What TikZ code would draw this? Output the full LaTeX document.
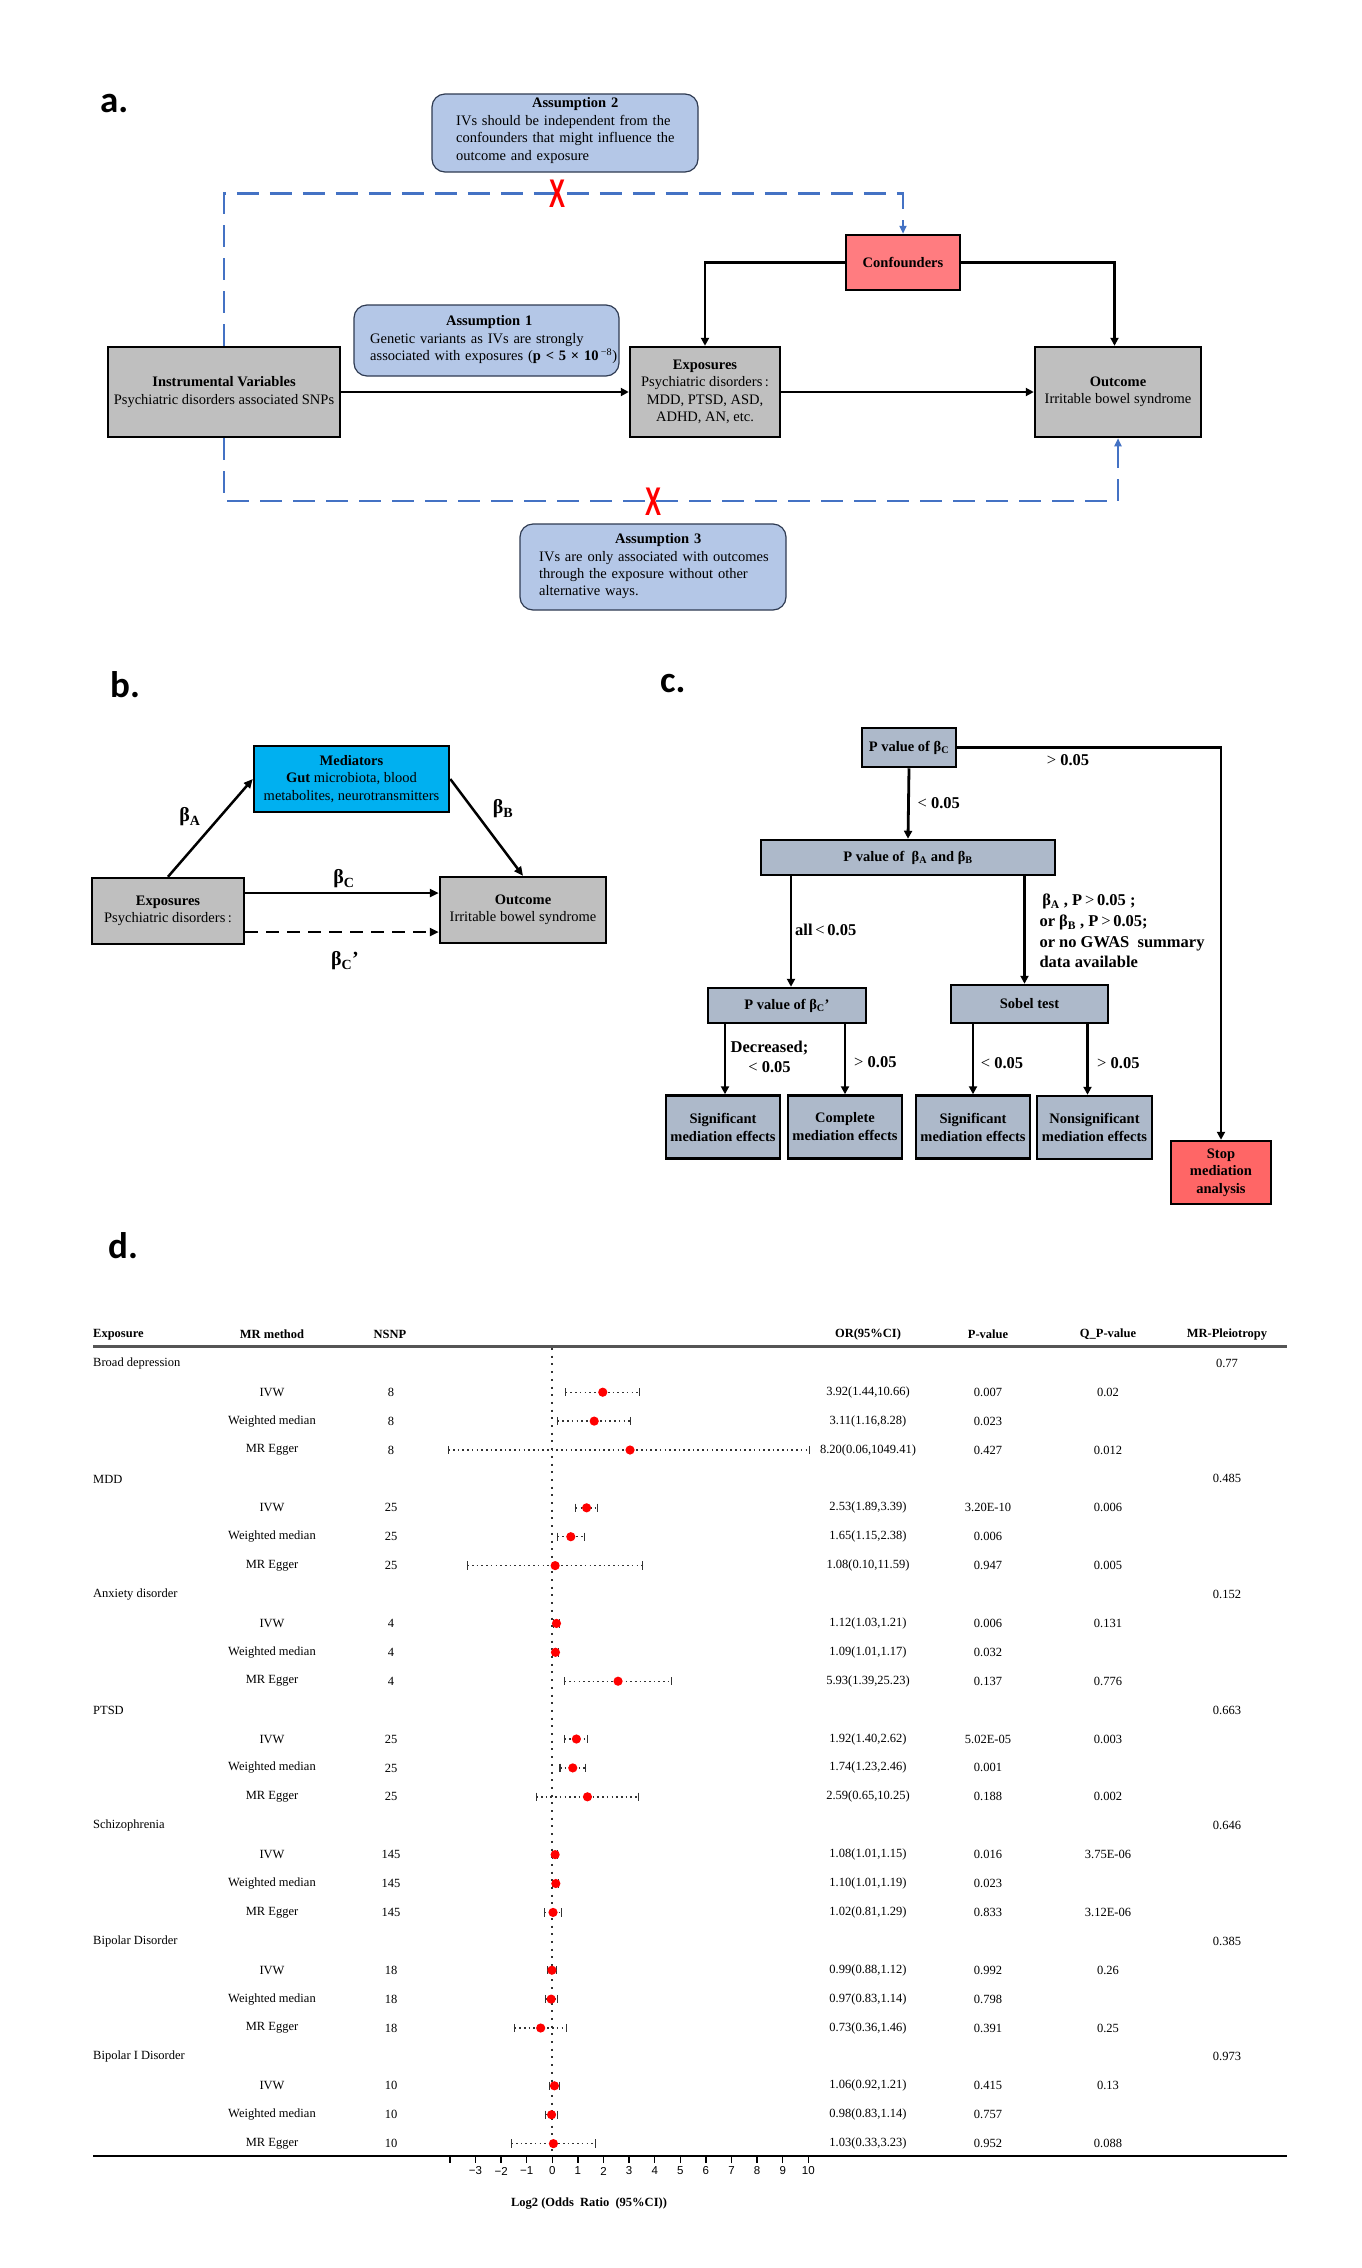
\documentclass[tikz,border=0pt]{standalone}
\usepackage{fontspec}
\setmainfont{Liberation Serif}
\newfontfamily\lblfont{Carlito}
\newfontfamily\axfont{Liberation Sans}
\usepackage{graphicx}
\usetikzlibrary{arrows.meta,calc}
\newcommand\myfs[2]{\fontsize{#1}{#2}\selectfont}
\definecolor{aFillC}{HTML}{B4C7E7}
\definecolor{aDrawC}{HTML}{2F3B52}
\definecolor{grayC}{HTML}{BFBFBF}
\definecolor{confC}{HTML}{FF7C80}
\definecolor{medC}{HTML}{00B0F0}
\definecolor{cboxC}{HTML}{ADB9CA}
\definecolor{stopC}{HTML}{FF6666}
\definecolor{dblueC}{HTML}{4472C4}
\definecolor{ruleC}{HTML}{555555}
\definecolor{ciC}{HTML}{333333}
\tikzset{
 panel/.style={font=\lblfont\bfseries\myfs{37}{40}, anchor=base west, inner sep=0},
 gbox/.style={draw=black, line width=2.5pt, fill=grayC, inner sep=0, align=center, font=\myfs{14.5}{17.5}},
 abox/.style={draw=aDrawC, line width=1.2pt, fill=aFillC, rounded corners=13pt, inner sep=0},
 atext/.style={inner sep=0, text width=260pt, align=left, font=\myfs{14.5}{17.4}, anchor=west},
 arr/.style={line width=2.6pt, -{Triangle[length=8pt,width=8pt]}},
 bdash/.style={draw=dblueC, line width=2.6pt, dash pattern=on 22pt off 11pt, -{Triangle[length=8pt,width=7pt]}},
 redx/.style={text=red, font=\axfont\bfseries\myfs{40}{40}, inner sep=0},
 blbl/.style={font=\bfseries\myfs{20}{22}, inner sep=0},
 barr/.style={line width=2.5pt, -{Triangle[length=9pt,width=8pt]}},
 cbox/.style={draw=black, line width=2.5pt, fill=cboxC, inner sep=0, align=center, font=\bfseries\myfs{14.5}{18}},
 carr/.style={line width=2.8pt, -{Triangle[length=8pt,width=8pt]}},
 clbl/.style={font=\bfseries\myfs{16.5}{20.6}, inner sep=0, align=left},
 ftxt/.style={font=\myfs{12.5}{14}, inner sep=0},
 fhead/.style={font=\bfseries\myfs{12.5}{14}, inner sep=0},
 cil/.style={draw=ciC, line width=1.4pt, dash pattern=on 1.6pt off 3.1pt},
 capl/.style={draw=ciC, line width=1.1pt},
 zl/.style={draw=ciC, line width=1.8pt, dash pattern=on 2pt off 5.7pt},
 tickl/.style={draw=black, line width=1.3pt},
 axl/.style={font=\axfont\myfs{11.5}{12}, inner sep=0}
}
\newcommand\fgroup[3]{%
 \pgfmathsetmacro\yy{1363.3+28.9*#1}%
 \node[ftxt, anchor=west] (g#1) at (93,\yy) {#2};
 \node[ftxt] (pl#1) at (1227,\yy) {#3};
}
\newcommand\frow[9]{%
 \pgfmathsetmacro\yy{1363.3+28.9*#1}%
 \pgfmathsetmacro\xo{552.3+25.6*ln(#4)/ln(2)}%
 \pgfmathsetmacro\xl{552.3+25.6*ln(#5)/ln(2)}%
 \pgfmathsetmacro\xh{552.3+25.6*ln(#6)/ln(2)}%
 \node[ftxt] (m#1) at (272,\yy) {#2};
 \node[ftxt] (n#1) at (391,\yy) {#3};
 \draw[cil] (\xl,\yy) -- (\xh,\yy);
 \draw[capl] (\xl,\yy-4.2) -- (\xl,\yy+4.2);
 \draw[capl] (\xh,\yy-4.2) -- (\xh,\yy+4.2);
 \fill[red] (\xo,\yy) circle[radius=4.6pt];
 \node[ftxt] (o#1) at (868,\yy) {#7};
 \node[ftxt] (p#1) at (988,\yy) {#8};
 \node[ftxt] (q#1) at (1108,\yy) {#9};
}
\begin{document}
\begin{tikzpicture}[x=1pt,y=-1pt]
\fill[white] (0,0) rectangle (1361,2268);
\useasboundingbox (0,0) rectangle (1361,2268);

% ---------------- panel a ----------------
\node[panel] (la) at (100,112) {a.};
\node[abox, minimum width=266pt, minimum height=78pt] (a2) at (565,133) {};
\node[atext] (a2t) at (456,130.5) {\makebox[238pt]{\textbf{Assumption 2}}\\IVs should be independent from the\\confounders that might influence the\\outcome and exposure};
\node[abox, minimum width=265pt, minimum height=71pt] (a1) at (486.5,340.5) {};
\node[atext] (a1t) at (370,339.9) {\makebox[238pt]{\textbf{Assumption 1}}\\Genetic variants as IVs are strongly\\associated with exposures (\textbf{p < 5 × 10}\,\textsuperscript{−8})};
\node[abox, minimum width=266pt, minimum height=86pt] (a3) at (653,567) {};
\node[atext] (a3t) at (539,566.3) {\makebox[238pt]{\textbf{Assumption 3}}\\IVs are only associated with outcomes\\through the exposure without other\\alternative ways.};

\node[gbox, minimum width=232pt, minimum height=90pt] (iv) at (224,392) {\textbf{Instrumental Variables}\\Psychiatric disorders associated SNPs};
\node[gbox, minimum width=150pt, minimum height=90pt] (expa) at (705,392) {\textbf{Exposures}\\Psychiatric disorders\,:\\MDD, PTSD, ASD,\\ADHD, AN, etc.};
\node[gbox, minimum width=166pt, minimum height=90pt] (outa) at (1118,392) {\textbf{Outcome}\\Irritable bowel syndrome};
\node[gbox, fill=confC, minimum width=114pt, minimum height=55pt] (conf) at (903,262.5) {\textbf{Confounders}};

\coordinate (topy) at (0,193.6);
\coordinate (boty) at (0,501);
\draw[bdash] (iv.north) |- (conf.north |- topy) -- (conf.north);
\draw[bdash] (iv.south) |- (outa.south |- boty) -- (outa.south);
\node[redx] (x1) at (557,194) {\scalebox{0.6}[1]{X}};
\node[redx] (x2) at (653,502) {\scalebox{0.6}[1]{X}};

\draw[arr] (iv.east) -- (expa.west);
\draw[arr] (expa.east) -- (outa.west);
\draw[arr] (conf.west) -| (expa.north);
\draw[arr] (conf.east) -| ([xshift=-3.5pt]outa.north);

% ---------------- panel b ----------------
\node[panel] (lb) at (110,697) {b.};
\node[gbox, fill=medC, minimum width=195pt, minimum height=66pt] (med) at (351.5,779) {\textbf{Mediators}\\\textbf{Gut} microbiota, blood\\metabolites, neurotransmitters};
\node[gbox, minimum width=152pt, minimum height=66pt] (expb) at (168,911) {\textbf{Exposures}\\Psychiatric disorders\,:};
\node[gbox, minimum width=166pt, minimum height=66pt] (outb) at (523,910) {\textbf{Outcome}\\Irritable bowel syndrome};
\draw[barr] (expb.north) -- (med.west);
\draw[barr] (med.east) -- (outb.north);
\coordinate (bc1) at ([yshift=18pt]expb.east);
\coordinate (bc2) at ([yshift=-21pt]expb.east);
\draw[barr] (bc1) -- (bc1 -| outb.west);
\draw[barr, dash pattern=on 13pt off 8pt] (bc2) -- (bc2 -| outb.west);
\node[blbl] (bA) at (190,817) {β\textsubscript{A}};
\node[blbl] (bB) at (503,809) {β\textsubscript{B}};
\node[blbl] (bC) at (344,879) {β\textsubscript{C}};
\node[blbl] (bCp) at (345,961) {β\textsubscript{C}'};

% ---------------- panel c ----------------
\node[panel] (lc) at (660,692) {c.};
\node[cbox, minimum width=94pt, minimum height=39pt] (pc) at (909,747.5) {P value of β\textsubscript{C}};
\node[cbox, minimum width=294pt, minimum height=35pt] (pab) at (908,857.5) {P value of~~β\textsubscript{A} and β\textsubscript{B}};
\node[cbox, minimum width=158pt, minimum height=35pt] (pcp) at (787,1005.5) {P value of β\textsubscript{C}'};
\node[cbox, minimum width=157pt, minimum height=38pt] (sob) at (1029.5,1004) {Sobel test};
\node[cbox, minimum width=114pt, minimum height=63pt] (r1) at (723,1127) {Significant\\mediation effects};
\node[cbox, minimum width=114pt, minimum height=63pt] (r2) at (845,1127) {Complete\\mediation effects};
\node[cbox, minimum width=114pt, minimum height=63pt] (r3) at (973,1127) {Significant\\mediation effects};
\node[cbox, minimum width=115pt, minimum height=63pt] (r4) at (1094.5,1127.5) {Nonsignificant\\mediation effects};
\node[cbox, fill=stopC, minimum width=100pt, minimum height=63pt, font=\bfseries\myfs{14.5}{17.5}] (stop) at (1221,1172.5) {Stop\\mediation\\analysis};

\draw[carr] (pc.south) -- (pab.north);
\draw[carr] (pc.east) -| (stop.north);
\draw[carr] ([xshift=4pt]pcp.north |- pab.south) -- ([xshift=4pt]pcp.north);
\draw[carr] ([xshift=-5pt]sob.north |- pab.south) -- ([xshift=-5pt]sob.north);
\draw[carr] ([xshift=2pt]r1.north |- pcp.south) -- ([xshift=2pt]r1.north);
\draw[carr] (r2.north |- pcp.south) -- (r2.north);
\draw[carr] (r3.north |- sob.south) -- (r3.north);
\draw[carr] ([xshift=-7pt]r4.north |- sob.south) -- ([xshift=-7pt]r4.north);

\node[clbl, anchor=west] (l1) at (1046.7,760) {{\mdseries >} 0.05};
\node[clbl, anchor=west] (l2) at (917.4,803) {{\mdseries <} 0.05};
\node[clbl, anchor=west] (l3) at (795,930) {all\,{\mdseries <}\,0.05};
\node[clbl, anchor=west] (l4) at (1039.3,931) {\,β\textsubscript{A} , P\,{\mdseries >}\,0.05 ;\\or β\textsubscript{B} , P\,{\mdseries >}\,0.05;\\or no GWAS~~summary\\data available};
\node[clbl, align=center] (l5) at (769.5,1057) {Decreased;\\{\mdseries <} 0.05};
\node[clbl, anchor=west] (l6) at (854,1062) {{\mdseries >} 0.05};
\node[clbl, anchor=west] (l7) at (980.7,1063) {{\mdseries <} 0.05};
\node[clbl, anchor=west] (l8) at (1097,1062.7) {{\mdseries >} 0.05};

% ---------------- panel d ----------------
\node[panel] (ld) at (108,1258) {d.};
\node[fhead, anchor=west] (hE) at (93,1334.3) {Exposure};
\node[fhead] (hM) at (272,1334.3) {MR method};
\node[fhead] (hN) at (390,1334.3) {NSNP};
\node[fhead] (hO) at (868,1334.3) {OR(95\%CI)};
\node[fhead] (hP) at (988,1334.3) {P-value};
\node[fhead] (hQ) at (1108,1334.3) {Q\_P-value};
\node[fhead] (hR) at (1227,1334.3) {MR-Pleiotropy};
\draw[draw=ruleC, line width=2.2pt] (93,1346.5) -- (1287,1346.5);
\draw[zl] (552.3,1348) -- (552.3,2155);

\fgroup{0}{Broad depression}{0.77}
\frow{1}{IVW}{8}{3.92}{1.44}{10.66}{3.92(1.44,10.66)}{0.007}{0.02}
\frow{2}{Weighted median}{8}{3.11}{1.16}{8.28}{3.11(1.16,8.28)}{0.023}{}
\frow{3}{MR Egger}{8}{8.20}{0.06}{1049.41}{8.20(0.06,1049.41)}{0.427}{0.012}
\fgroup{4}{MDD}{0.485}
\frow{5}{IVW}{25}{2.53}{1.89}{3.39}{2.53(1.89,3.39)}{3.20E-10}{0.006}
\frow{6}{Weighted median}{25}{1.65}{1.15}{2.38}{1.65(1.15,2.38)}{0.006}{}
\frow{7}{MR Egger}{25}{1.08}{0.10}{11.59}{1.08(0.10,11.59)}{0.947}{0.005}
\fgroup{8}{Anxiety disorder}{0.152}
\frow{9}{IVW}{4}{1.12}{1.03}{1.21}{1.12(1.03,1.21)}{0.006}{0.131}
\frow{10}{Weighted median}{4}{1.09}{1.01}{1.17}{1.09(1.01,1.17)}{0.032}{}
\frow{11}{MR Egger}{4}{5.93}{1.39}{25.23}{5.93(1.39,25.23)}{0.137}{0.776}
\fgroup{12}{PTSD}{0.663}
\frow{13}{IVW}{25}{1.92}{1.40}{2.62}{1.92(1.40,2.62)}{5.02E-05}{0.003}
\frow{14}{Weighted median}{25}{1.74}{1.23}{2.46}{1.74(1.23,2.46)}{0.001}{}
\frow{15}{MR Egger}{25}{2.59}{0.65}{10.25}{2.59(0.65,10.25)}{0.188}{0.002}
\fgroup{16}{Schizophrenia}{0.646}
\frow{17}{IVW}{145}{1.08}{1.01}{1.15}{1.08(1.01,1.15)}{0.016}{3.75E-06}
\frow{18}{Weighted median}{145}{1.10}{1.01}{1.19}{1.10(1.01,1.19)}{0.023}{}
\frow{19}{MR Egger}{145}{1.02}{0.81}{1.29}{1.02(0.81,1.29)}{0.833}{3.12E-06}
\fgroup{20}{Bipolar Disorder}{0.385}
\frow{21}{IVW}{18}{0.99}{0.88}{1.12}{0.99(0.88,1.12)}{0.992}{0.26}
\frow{22}{Weighted median}{18}{0.97}{0.83}{1.14}{0.97(0.83,1.14)}{0.798}{}
\frow{23}{MR Egger}{18}{0.73}{0.36}{1.46}{0.73(0.36,1.46)}{0.391}{0.25}
\fgroup{24}{Bipolar I Disorder}{0.973}
\frow{25}{IVW}{10}{1.06}{0.92}{1.21}{1.06(0.92,1.21)}{0.415}{0.13}
\frow{26}{Weighted median}{10}{0.98}{0.83}{1.14}{0.98(0.83,1.14)}{0.757}{}
\frow{27}{MR Egger}{10}{1.03}{0.33}{3.23}{1.03(0.33,3.23)}{0.952}{0.088}

\draw[line width=1.6pt] (93,2156) -- (1287,2156);
\foreach \t in {-4,...,10} {
  \draw[tickl] ({552.3+25.6*\t},2156) -- ++(0,7);
}
\foreach \t/\s [count=\k] in {-3/−3,-2/−2,-1/−1,0/0,1/1,2/2,3/3,4/4,5/5,6/6,7/7,8/8,9/9,10/10} {
  \node[axl] (ax\k) at ({552.3+25.6*\t},2171) {\s};
}
\node[fhead] (axt) at (589,2204) {Log2 (Odds~~Ratio~~(95\%CI))};
\end{tikzpicture}
\end{document}
